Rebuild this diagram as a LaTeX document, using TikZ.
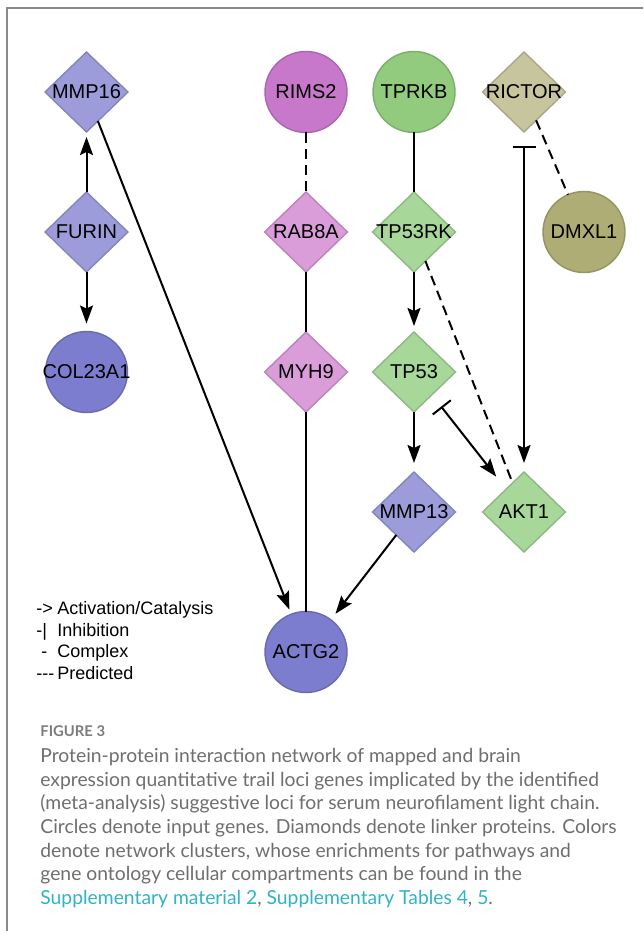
\documentclass[tikz,border=0pt]{standalone}
\usepackage{fontspec}
\usepackage{xcolor}
\usetikzlibrary{shapes.geometric,arrows.meta,positioning}
\newfontfamily\genefont{Liberation Sans}
\newfontfamily\capfont{Lato}
\definecolor{BlueLinker}{HTML}{9C9CDB}
\definecolor{BlueInput}{HTML}{7D7DCF}
\definecolor{PinkInput}{HTML}{C878CA}
\definecolor{PinkLinker}{HTML}{DA9DDA}
\definecolor{GreenInput}{HTML}{93CB7E}
\definecolor{GreenLinker}{HTML}{A8D79A}
\definecolor{KhakiLinker}{HTML}{C6C59E}
\definecolor{OliveInput}{HTML}{AEAD76}
\definecolor{FrameGray}{HTML}{8A8A8A}
\definecolor{CapGray}{HTML}{6E6E6E}
\definecolor{LinkTeal}{HTML}{2FB3C6}
\newcommand{\gname}[1]{\makebox[0pt]{#1}}

\begin{document}
\begin{tikzpicture}[x=0.5pt,y=-0.5pt,on grid,
  gene/.style={inner sep=0pt,outer sep=0pt,line width=0.7pt,
               font=\genefont\fontsize{10}{12}\selectfont},
  linker/.style={gene,diamond,minimum width=41.5pt,minimum height=40pt,
                 fill=#1,draw=#1!85!black},
  input/.style={gene,ellipse,minimum width=41pt,minimum height=40.5pt,
                fill=#1,draw=#1!85!black},
  cplx/.style={line width=1pt,black},
  act/.style={cplx,-{Stealth[length=9pt,width=6.5pt,inset=1.5pt]},shorten >=3pt},
  pred/.style={cplx,dash pattern=on 5pt off 3pt},
  inh/.style={cplx,{Bar[width=11.5pt]}-{Stealth[length=9pt,width=6.5pt,inset=1.5pt]}}]
\useasboundingbox (0,0) rectangle (643,931);
\draw[FrameGray,line width=1pt] (7,931) |- (643,8);
% network
\node[linker=BlueLinker] (mmp16) at (86.5,92) {\gname{MMP16}};
\node[linker=BlueLinker,below=70pt of mmp16] (furin) {\gname{FURIN}};
\node[input=BlueInput,below=70pt of furin] (col23a1) {\gname{COL23A1}};
\node[input=PinkInput,right=109.75pt of mmp16] (rims2) {\gname{RIMS2}};
\node[linker=PinkLinker,below=70pt of rims2] (rab8a) {\gname{RAB8A}};
\node[linker=PinkLinker,below=70pt of rab8a] (myh9) {\gname{MYH9}};
\node[input=BlueInput,below=140pt of myh9] (actg2) {\gname{ACTG2}};
\node[input=GreenInput,right=54pt of rims2] (tprkb) {\gname{TPRKB}};
\node[linker=GreenLinker,below=70pt of tprkb] (tp53rk) {\gname{TP53RK}};
\node[linker=GreenLinker,below=70pt of tp53rk] (tp53) {\gname{TP53}};
\node[linker=BlueLinker,below=70pt of tp53] (mmp13) {\gname{MMP13}};
\node[linker=KhakiLinker,right=55pt of tprkb] (rictor) {\gname{RICTOR}};
\node[linker=GreenLinker,right=55pt of mmp13] (akt1) {\gname{AKT1}};
\node[input=OliveInput,right=85pt of tp53rk] (dmxl1) {\gname{DMXL1}};
\draw[act,shorten >=2.5pt] (furin) -- (mmp16);
\draw[act,shorten >=4pt] (furin) -- (col23a1);
\draw[act,shorten >=2.5pt] (mmp16) -- (actg2);
\draw[pred] (rims2) -- (rab8a);
\draw[cplx] (rab8a) -- (myh9);
\draw[cplx] (myh9) -- (actg2);
\draw[cplx] (tprkb) -- (tp53rk);
\draw[act] (tp53rk) -- (tp53);
\draw[pred] (tp53rk) -- (akt1);
\draw[act,shorten >=4.5pt] (tp53) -- (mmp13);
\draw[inh,shorten <=7.5pt,shorten >=8pt] (tp53) -- (akt1);
\draw[inh,shorten <=7pt,shorten >=4.5pt] (rictor) -- (akt1);
\draw[pred] (rictor) -- (dmxl1);
\draw[act,shorten >=3.8pt] (mmp13) -- (actg2);
% legend
\node[anchor=north west,align=left,inner sep=0pt,
      font=\genefont\fontsize{9}{10.85}\selectfont] (legend) at (36,601)
  {\makebox[10.5pt][l]{-{}>}Activation/Catalysis\\
   \makebox[10.5pt][l]{-|}Inhibition\\
   \makebox[10.5pt][l]{\hspace{2.5pt}-}Complex\\
   \makebox[10.5pt][l]{-{}-{}-}Predicted};
% caption
\node[anchor=base west,inner sep=0pt,text=CapGray!90,
      font=\capfont\bfseries\fontsize{7.4}{9}\selectfont] (figlabel) at (40,736)
  {FIGURE 3};
\node[anchor=base west,align=left,inner sep=0pt,text=CapGray,
      font=\capfont\fontsize{9.65}{11.85}\selectfont] (caption) at (40,904.5)
  {Protein-protein interaction network of mapped and brain\\
   expression quantitative trail loci genes implicated by the identified\\
   (meta-analysis) suggestive loci for serum neurofilament light chain.\\
   Circles denote input genes. Diamonds denote linker proteins. Colors\\
   denote network clusters, whose enrichments for pathways and\\
   gene ontology cellular compartments can be found in the\\
   \textcolor{LinkTeal}{Supplementary material 2}, \textcolor{LinkTeal}{Supplementary Tables 4}, \textcolor{LinkTeal}{5}.};
\end{tikzpicture}
\end{document}
